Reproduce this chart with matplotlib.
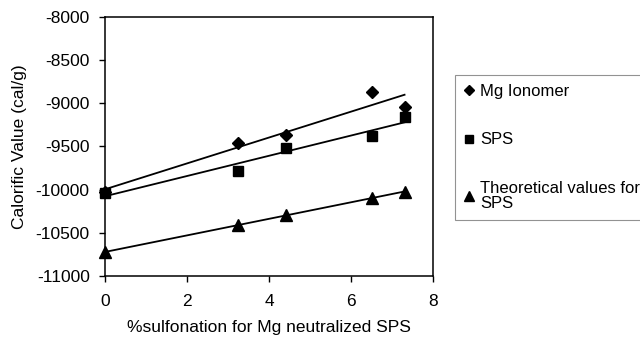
import matplotlib
matplotlib.use("Agg")
import matplotlib.pyplot as plt
import numpy as np
from matplotlib.lines import Line2D

plt.rcParams["font.family"] = ["Liberation Sans", "DejaVu Sans"]
plt.rcParams["axes.unicode_minus"] = False

# % sulfonation for Mg neutralized SPS
sulfonation = [0, 3.25, 4.4, 6.5, 7.3]
mg_ionomer = [-10030, -9456, -9367, -8872, -9039]
sps = [-10042, -9780, -9514, -9378, -9155]
theoretical_sps = [-10726, -10409, -10293, -10093, -10031]

series = [
    ("Mg Ionomer", mg_ionomer, "D", 6.5),
    ("SPS", sps, "s", 7),
    ("Theoretical values for\nSPS", theoretical_sps, "^", 8),
]

fig = plt.figure(figsize=(6.4, 3.39), dpi=100)
ax = fig.add_axes([0.164, 0.186, 0.513, 0.764])

x = np.array(sulfonation)
handles = []
for label, vals, marker, ms in series:
    y = np.array(vals)
    ax.plot(x, y, linestyle="none", marker=marker, markersize=ms,
            color="black", clip_on=False, zorder=3)
    # linear trend line
    k, b = np.polyfit(x, y, 1)
    ax.plot([x.min(), x.max()], [k * x.min() + b, k * x.max() + b],
            color="black", linewidth=1.3, zorder=2)
    handles.append(Line2D([], [], linestyle="none", marker=marker,
                          markersize=ms * 0.85, color="black", label=label))

ax.set_xlim(0, 8)
ax.set_ylim(-11000, -8000)
ax.set_xticks([0, 2, 4, 6, 8])
ax.set_yticks(np.arange(-11000, -7999, 500))
ax.tick_params(direction="out", length=4, width=1, labelsize=12.5)
ax.tick_params(axis="x", pad=9)
ax.tick_params(axis="y", pad=7)
for spine in ax.spines.values():
    spine.set_linewidth(1.1)

ax.set_xlabel("%sulfonation for Mg neutralized SPS", fontsize=12.5, labelpad=8)
ax.set_ylabel("Calorific Value (cal/g)", fontsize=12.5, labelpad=6)

leg = fig.legend(handles=handles, loc="upper left",
                 bbox_to_anchor=(455 / 640, 1 - 75 / 339),
                 bbox_transform=fig.transFigure,
                 frameon=True, fancybox=False, fontsize=12,
                 labelspacing=2.0, handlelength=0.6, handletextpad=0.35,
                 borderpad=0.55, borderaxespad=0)
for t in leg.get_texts():
    t.set_linespacing(1.0)
leg.get_frame().set_edgecolor("#777777")
leg.get_frame().set_linewidth(0.8)

fig.savefig("out.png", dpi=100, facecolor="white")
